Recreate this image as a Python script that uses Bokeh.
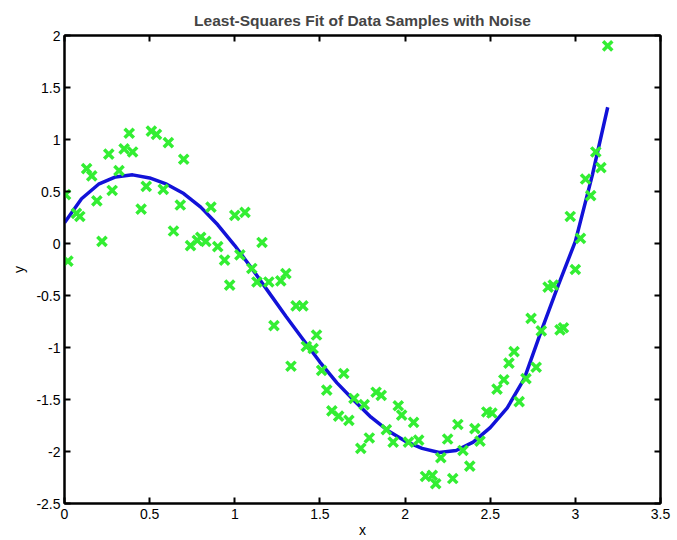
from bokeh.plotting import figure
from bokeh.models import Range1d, LinearAxis, FixedTicker
from bokeh.embed import file_html
from bokeh.resources import INLINE

# ---- data ----
sample_x = [0.006, 0.02, 0.07, 0.09, 0.13, 0.16, 0.19, 0.22, 0.26, 0.28,
            0.32, 0.35, 0.38, 0.40, 0.45, 0.48, 0.51, 0.54, 0.58, 0.61,
            0.64, 0.68, 0.70, 0.74, 0.78, 0.80, 0.83, 0.86, 0.90, 0.94,
            0.97, 1.00, 1.03, 1.06, 1.10, 1.13, 1.16, 1.20, 1.23, 1.27,
            1.30, 1.33, 1.36, 1.40, 1.42, 1.46, 1.48, 1.51, 1.54, 1.57,
            1.61, 1.64, 1.67, 1.70, 1.74, 1.76, 1.79, 1.83, 1.86, 1.89,
            1.93, 1.96, 1.98, 2.02, 2.05, 2.08, 2.12, 2.16, 2.18, 2.21,
            2.25, 2.28, 2.31, 2.34, 2.38, 2.41, 2.44, 2.48, 2.51, 2.54,
            2.58, 2.61, 2.64, 2.67, 2.71, 2.74, 2.77, 2.80, 2.84, 2.87,
            2.91, 2.93, 2.97, 3.00, 3.03, 3.06, 3.09, 3.12, 3.15, 3.19]
sample_y = [0.47, -0.17, 0.29, 0.26, 0.72, 0.65, 0.41, 0.02, 0.86, 0.51,
            0.70, 0.91, 1.06, 0.88, 0.33, 0.55, 1.08, 1.05, 0.52, 0.97,
            0.12, 0.37, 0.81, -0.02, 0.03, 0.06, 0.02, 0.35, -0.03, -0.16,
            -0.40, 0.27, -0.11, 0.30, -0.24, -0.37, 0.01, -0.37, -0.79, -0.36,
            -0.29, -1.18, -0.60, -0.60, -0.99, -1.01, -0.88, -1.22, -1.41, -1.61,
            -1.66, -1.25, -1.70, -1.49, -1.97, -1.55, -1.87, -1.43, -1.46, -1.79,
            -1.91, -1.56, -1.65, -1.91, -1.72, -1.89, -2.24, -2.23, -2.31, -2.06,
            -1.88, -2.26, -1.74, -1.99, -2.14, -1.78, -1.90, -1.62, -1.63, -1.40,
            -1.31, -1.15, -1.04, -1.52, -1.30, -0.72, -1.19, -0.84, -0.42, -0.40,
            -0.83, -0.81, 0.26, -0.25, 0.05, 0.62, 0.46, 0.88, 0.73, 1.90]

fit_x = [0.0, 0.1, 0.2, 0.3, 0.4, 0.5, 0.6, 0.7, 0.8, 0.9,
         1.0, 1.1, 1.2, 1.3, 1.4, 1.5, 1.6, 1.7, 1.8, 1.9,
         2.0, 2.1, 2.2, 2.3, 2.4, 2.5, 2.6, 2.7, 2.8, 2.9,
         3.0, 3.1, 3.19]
fit_y = [0.20, 0.43, 0.57, 0.64, 0.66, 0.63, 0.57, 0.48, 0.35, 0.18,
         -0.02, -0.24, -0.47, -0.70, -0.92, -1.14, -1.34, -1.51, -1.67, -1.80,
         -1.90, -1.97, -2.01, -1.99, -1.91, -1.77, -1.58, -1.30, -0.84, -0.40,
         0.02, 0.66, 1.31]

x_ticks = [0, 0.5, 1, 1.5, 2, 2.5, 3, 3.5]
x_tick_labels = ["0", "0.5", "1", "1.5", "2", "2.5", "3", "3.5"]
y_ticks = [-2.5, -2, -1.5, -1, -0.5, 0, 0.5, 1, 1.5, 2]
y_tick_labels = ["-2.5", "-2", "-1.5", "-1", "-0.5", "0", "0.5", "1", "1.5", "2"]

FONT = "Liberation Sans"

p = figure(width=672, height=540, output_backend="svg", toolbar_location=None,
           x_range=Range1d(0, 3.5), y_range=Range1d(-2.5, 2),
           min_border_left=64, min_border_right=12, min_border_top=35,
           min_border_bottom=37, x_axis_label="x", y_axis_label="y")

p.title.text = "Least-Squares Fit of Data Samples with Noise"
p.title.align = "center"
p.title.text_font = FONT
p.title.text_font_size = "15.5px"
p.title.text_font_style = "bold"
p.title.offset = 0
p.title.standoff = 14

p.grid.visible = False
p.background_fill_color = "white"
p.border_fill_color = "white"
p.outline_line_color = "black"
p.outline_line_width = 2


def style_axis(ax, ticks, labels, show_labels=True):
    ax.ticker = FixedTicker(ticks=ticks)
    ax.major_tick_in = 6
    ax.major_tick_out = 0
    ax.major_tick_line_width = 2
    ax.major_tick_line_color = "black"
    ax.minor_tick_line_color = None
    ax.axis_line_color = "black"
    ax.axis_line_width = 2
    ax.major_label_text_font = FONT
    if show_labels:
        ax.major_label_overrides = {t: l for t, l in zip(ticks, labels)}
        ax.major_label_text_font_size = "14px"
        ax.major_label_text_color = "black"
        ax.major_label_standoff = 4
    else:
        ax.major_label_overrides = {t: "" for t in ticks}
        ax.major_label_text_font_size = "1px"
        ax.major_label_text_color = None
        ax.major_label_standoff = 0
    ax.axis_label_text_font = FONT
    ax.axis_label_text_font_size = "14px"
    ax.axis_label_text_font_style = "normal"
    ax.axis_label_text_color = "black"
    ax.axis_label_standoff = 1


for ax in p.xaxis:
    style_axis(ax, x_ticks, x_tick_labels)
    ax.major_label_standoff = 5
    ax.axis_label_standoff = 0
for ax in p.yaxis:
    style_axis(ax, y_ticks, y_tick_labels)
    ax.axis_label_standoff = 6

top_axis = LinearAxis()
style_axis(top_axis, x_ticks, x_tick_labels, show_labels=False)
p.add_layout(top_axis, "above")
right_axis = LinearAxis()
style_axis(right_axis, y_ticks, y_tick_labels, show_labels=False)
p.add_layout(right_axis, "right")

p.line(fit_x, fit_y, line_color="#1212d8", line_width=3.5)
p.scatter(sample_x, sample_y, marker="x", size=13, line_width=3.5,
          line_color="#33ee33")

open("out.html", "w").write(file_html(p, INLINE))
